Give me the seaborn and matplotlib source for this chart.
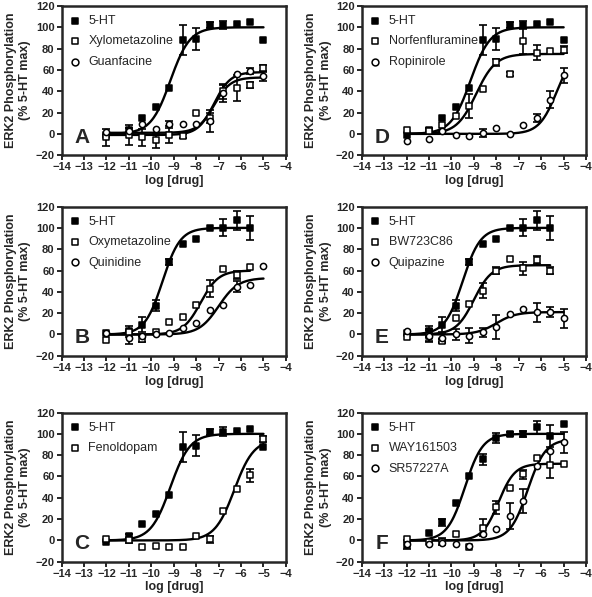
import numpy as np
import pandas as pd
import seaborn as sns
import matplotlib.pyplot as plt

nan = np.nan
log_dose = [-12, -11, -10.4, -9.8, -9.2, -8.6, -8.0, -7.4, -6.8, -6.2, -5.6, -5.0]

# 5-HT reference (panels A, C, D)
ht_acd = [-1, 4, 15, 25, 43, 88, 89, 102, 102, 103, 105, 88]
ht_acd_err = [0, 2, 0, 0, 0, 14, 10, 3, 4, 0, 0, 0]
# 5-HT reference (panels B, E)
ht_be = [1, 3, 9, 27, 68, 85, 90, 100, 100, 107, 100, nan]
ht_be_err = [0, 5, 7, 5, 3, 0, 0, 0, 8, 9, 11, nan]
# 5-HT reference (panel F)
ht_f = [-4, 7, 17, 35, 60, 76, 96, 100, 100, 106, 98, 109]
ht_f_err = [4, 0, 3, 0, 0, 5, 5, 2, 3, 6, 10, 0]

xylo = [-3, -1, -3, -6, -1, -2, 20, 15, 40, 43, 46, 62]
xylo_err = [8, 9, 8, 7, 8, 2, 0, 5, 7, 12, 3, 3]
guan = [2, 3, 9, 5, 9, 9, 9, 12, 38, 56, 59, 54]
guan_err = [0, 0, 0, 0, 3, 0, 0, 10, 8, 0, 3, 4]

oxy = [-5, 2, -4, 2, 12, 16, 28, 43, 61, 56, 63, nan]
oxy_err = [0, 0, 3, 0, 0, 0, 0, 8, 0, 4, 0, nan]
quin = [1, -3, -1, 0, 1, 6, 11, 23, 28, 45, 46, 64]
quin_err = [0, 6, 0, 0, 0, 0, 0, 0, 0, 5, 0, 0]

fen = [1, 0, -6, -5, -6, -6, 4, 1, 28, 48, 61, 95]
fen_err = [0, 2, 0, 0, 0, 0, 0, 3, 0, 0, 6, 3]

norf = [4, 3, 8, 17, 26, 42, 67, 56, 87, 76, 78, 79]
norf_err = [0, 0, 0, 0, 11, 0, 3, 2, 12, 7, 0, 3]
ropi = [-7, -5, 3, -1, -2, 1, 6, 0, 8, 15, 32, 55]
ropi_err = [0, 0, 0, 0, 0, 4, 0, 0, 0, 4, 8, 7]

bw = [-2, -1, -6, 15, 29, 41, 60, 71, 62, 70, 60, nan]
bw_err = [0, 6, 2, 0, 0, 7, 3, 0, 6, 4, 3, nan]
quip = [3, -1, -3, 0, -1, 2, 7, 19, 24, 21, 21, 15]
quip_err = [0, 5, 4, 5, 7, 4, 11, 0, 0, 9, 5, 9]

way = [1, -1, -1, 6, -6, 12, 31, 49, 62, 77, 71, 72]
way_err = [0, 0, 3, 0, 0, 8, 6, 0, 4, 0, 12, 0]
sr = [-3, -3, -2, -3, -5, 6, 11, 23, 37, 70, 84, 92]
sr_err = [0, 0, 0, 0, 0, 0, 0, 12, 11, 0, 0, 10]

# fitted curve parameters: bottom, top, logEC50, hill
fit_ht_acd = [0, 100, -9.15, 1.0]
fit_ht_be = [0, 100, -9.5, 1.1]
fit_ht_f = [0, 100, -9.4, 1.1]
fit_xylo = [-1, 58, -7.2, 1.2]
fit_guan = [1, 53, -7.2, 1.2]
fit_oxy = [0, 60, -7.8, 1.1]
fit_quin = [0, 53, -7.0, 1.0]
fit_fen = [0, 95, -6.3, 1.0]
fit_norf = [0, 75, -8.9, 1.0]
fit_ropi = [0, 80, -5.3, 1.1]
fit_bw = [0, 65, -9.0, 1.1]
fit_quip = [0, 21, -8.0, 1.0]
fit_way = [0, 72, -7.9, 1.2]
fit_sr = [0, 95, -6.6, 1.1]

panels = [
    ('A', [('5-HT', ht_acd, ht_acd_err, fit_ht_acd, 's', 'black'),
           ('Xylometazoline', xylo, xylo_err, fit_xylo, 's', 'white'),
           ('Guanfacine', guan, guan_err, fit_guan, 'o', 'white')]),
    ('D', [('5-HT', ht_acd, ht_acd_err, fit_ht_acd, 's', 'black'),
           ('Norfenfluramine', norf, norf_err, fit_norf, 's', 'white'),
           ('Ropinirole', ropi, ropi_err, fit_ropi, 'o', 'white')]),
    ('B', [('5-HT', ht_be, ht_be_err, fit_ht_be, 's', 'black'),
           ('Oxymetazoline', oxy, oxy_err, fit_oxy, 's', 'white'),
           ('Quinidine', quin, quin_err, fit_quin, 'o', 'white')]),
    ('E', [('5-HT', ht_be, ht_be_err, fit_ht_be, 's', 'black'),
           ('BW723C86', bw, bw_err, fit_bw, 's', 'white'),
           ('Quipazine', quip, quip_err, fit_quip, 'o', 'white')]),
    ('C', [('5-HT', ht_acd, ht_acd_err, fit_ht_acd, 's', 'black'),
           ('Fenoldopam', fen, fen_err, fit_fen, 's', 'white')]),
    ('F', [('5-HT', ht_f, ht_f_err, fit_ht_f, 's', 'black'),
           ('WAY161503', way, way_err, fit_way, 's', 'white'),
           ('SR57227A', sr, sr_err, fit_sr, 'o', 'white')]),
]

sns.set_style('ticks')
plt.rcParams['font.family'] = ['Liberation Sans', 'DejaVu Sans']

fig = plt.figure(figsize=(5.92, 5.97), dpi=100)
lefts = [0.104, 0.611]
bottoms = [0.740, 0.404, 0.059]
w, h = 0.379, 0.250

for i, (letter, series) in enumerate(panels):
    ax = fig.add_axes([lefts[i % 2], bottoms[i // 2], w, h])
    for name, y, err, p, mk, fc in series:
        df = pd.DataFrame({'x': log_dose, 'y': y, 'err': err}).dropna()
        xs = np.linspace(df['x'].min(), df['x'].max(), 200)
        b, t, ec, hl = p
        curve = pd.DataFrame({'x': xs, 'y': b + (t - b) / (1 + 10 ** ((ec - xs) * hl))})
        sns.lineplot(data=curve, x='x', y='y', ax=ax, color='black', lw=1.7, legend=False)
        e = df[df['err'] > 0]
        ax.errorbar(e['x'], e['y'], yerr=e['err'], fmt='none', ecolor='black',
                    elinewidth=1.2, capsize=3, capthick=1.2, zorder=3)
        sns.scatterplot(data=df, x='x', y='y', ax=ax, marker=mk, s=20, color=fc,
                        edgecolor='black', linewidth=1.1, label=name, zorder=4)
    ax.set_xlim(-14, -4)
    ax.set_ylim(-20, 120)
    ax.set_xticks(range(-14, -3))
    ax.set_yticks(range(-20, 121, 20))
    for lab in ax.get_xticklabels() + ax.get_yticklabels():
        lab.set_fontweight('bold')
    ax.tick_params(labelsize=8, width=1.4, length=3.5, pad=1.5)
    for sp in ax.spines.values():
        sp.set_visible(True)
        sp.set_linewidth(1.8)
    ax.set_xlabel('log [drug]', fontsize=9, fontweight='bold', labelpad=2)
    ax.set_ylabel('ERK2 Phosphorylation\n(% 5-HT max)', fontsize=9,
                  fontweight='bold', labelpad=3, linespacing=1.25)
    ax.text(-13.1, -3, letter, fontsize=15, fontweight='bold', ha='center', va='center')
    ax.legend(loc='upper left', bbox_to_anchor=(0.0, 0.99), frameon=False, fontsize=9,
              handletextpad=0.55, borderaxespad=0.3, borderpad=0.3,
              labelspacing=0.68, handlelength=1.0, markerscale=1.1)

fig.savefig('out.png', dpi=100)
